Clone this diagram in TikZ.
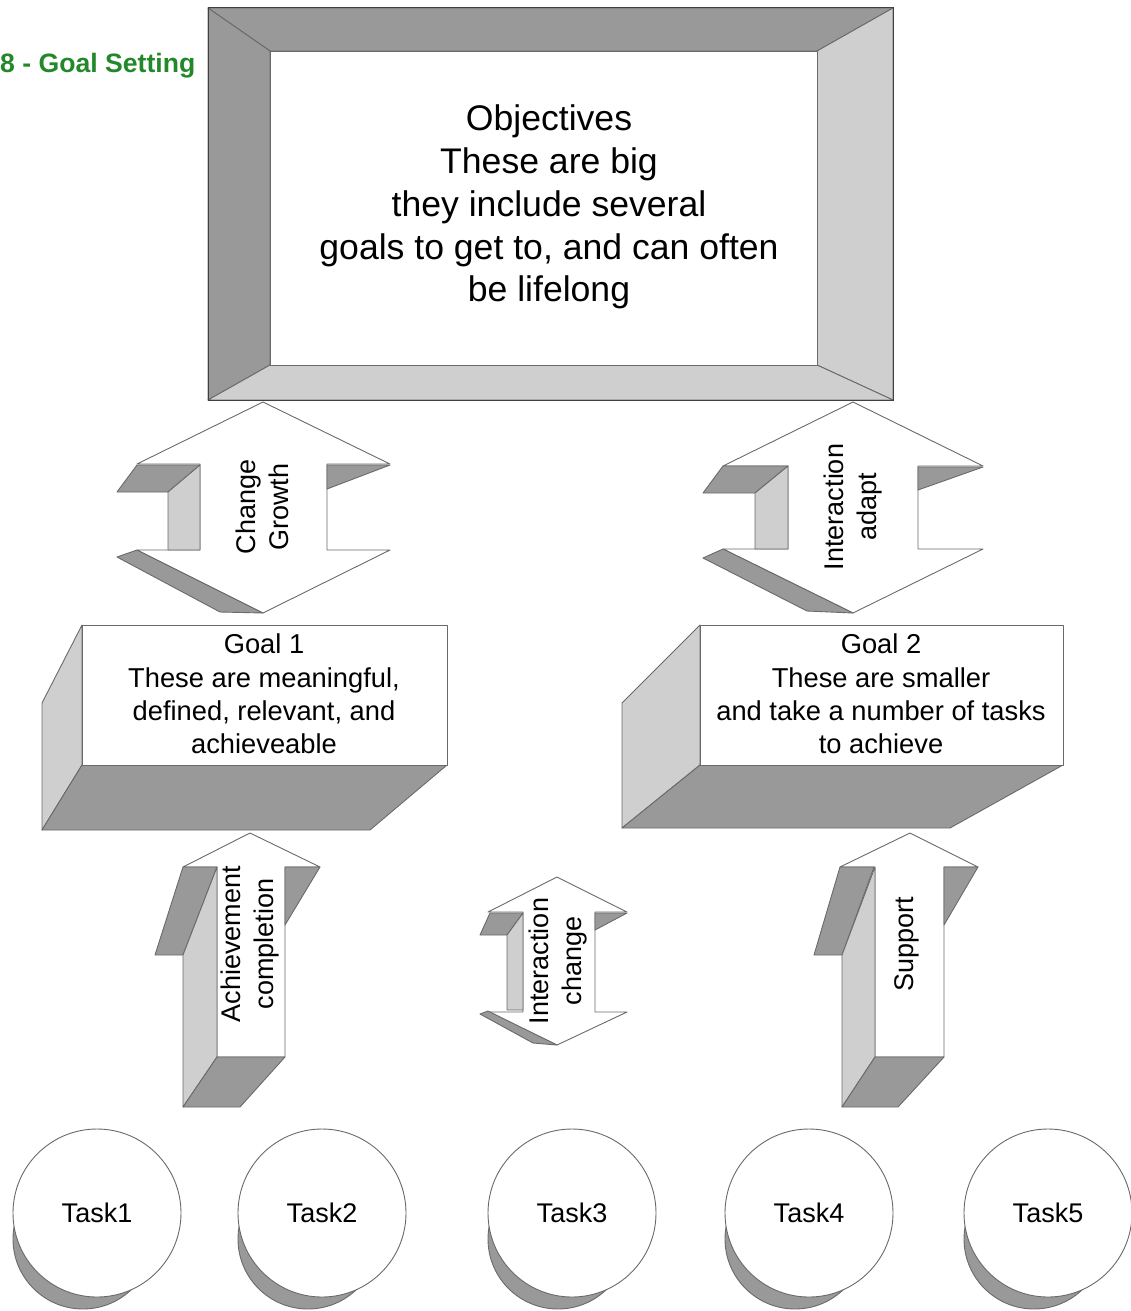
\documentclass[tikz,border=0pt]{standalone}
\usepackage{fontspec}
\setmainfont{Liberation Sans}
\usepackage{tikz}
\usepackage{xcolor}
\usetikzlibrary{positioning, calc}
\definecolor{GoalGreen}{HTML}{23882A}
\definecolor{FaceDark}{HTML}{999999}
\definecolor{FaceLight}{HTML}{CFCFCF}
\definecolor{EdgeGray}{HTML}{6A6A6A}
\definecolor{EdgeDark}{HTML}{404040}
\tikzset{
    % Faces of the 3D shapes
    frontface/.style={
        fill=white,
        draw=EdgeGray,
        line width=0.9pt,
        line join=round
    },
    darkface/.style={
        fill=FaceDark,
        draw=EdgeGray,
        line width=0.9pt,
        line join=round
    },
    lightface/.style={
        fill=FaceLight,
        draw=EdgeGray,
        line width=0.9pt,
        line join=round
    },
    % Text styles
    objtext/.style={
        align=center,
        font=\fontsize{35.6}{42.8}\selectfont
    },
    goaltext/.style={
        align=center,
        font=\fontsize{27.3}{33.2}\selectfont
    },
    arrowtext/.style={
        align=center,
        rotate=90,
        font=\fontsize{27}{33}\selectfont
    },
    taskcircle/.style={
        circle,
        draw=EdgeGray,
        fill=white,
        line width=0.9pt,
        minimum size=168pt,
        inner sep=0pt,
        font=\fontsize{27}{33}\selectfont
    },
    titletext/.style={
        anchor=base west,
        inner sep=0pt,
        text=GoalGreen,
        font=\fontsize{26.6}{32}\selectfont\bfseries
    }
}
\begin{document}
\begin{tikzpicture}[x=1pt, y=-1pt]
    \useasboundingbox (0,0) rectangle (1130,1311);

    % Title
    \node[titletext] (title) at (0,73) {8 - Goal Setting};

    % Objectives frame
    \draw[darkface] (208,8) -- (893,8) -- (817,51) -- (270,51) -- cycle;
    \draw[darkface] (208,8) -- (270,51) -- (270,365) -- (208,400) -- cycle;
    \draw[lightface] (893,8) -- (893,400) -- (817,365) -- (817,51) -- cycle;
    \draw[lightface] (208,400) -- (270,365) -- (817,365) -- (893,400) -- cycle;
    \draw[frontface] (270,51) rectangle (817,365);
    \draw[EdgeDark, line width=1pt] (208,8) rectangle (893,400);
    \node[objtext] (objectives) at (549,207) {Objectives\\These are big\\they include several\\goals to get to, and can often\\be lifelong};

    % Change / Growth arrow
    \draw[frontface] (263,402) -- (390,464) -- (327,464) -- (327,550) -- (390,550) -- (263,613) -- (137,550) -- (200,550) -- (200,464) -- (137,464) -- cycle;
    \draw[darkface] (117,492) -- (137,465) -- (200,465) -- (168,492) -- cycle;
    \draw[lightface] (168,492) -- (200,465) -- (200,550) -- (168,550) -- cycle;
    \draw[darkface] (327,465) -- (390,465) -- (327,489) -- cycle;
    \draw[darkface] (117,557) -- (137,550) -- (263,613) -- (220,612) -- cycle;
    \node[arrowtext] (growth) at (262,507) {Change\\Growth};

    % Interaction / adapt arrow
    \draw[frontface] (853,402) -- (983,466) -- (918,466) -- (918,549) -- (983,549) -- (853,613) -- (723,549) -- (788,549) -- (788,466) -- (723,466) -- cycle;
    \draw[darkface] (703,493) -- (723,466) -- (788,466) -- (755,493) -- cycle;
    \draw[lightface] (755,493) -- (788,466) -- (788,549) -- (755,549) -- cycle;
    \draw[darkface] (918,467) -- (983,467) -- (918,490) -- cycle;
    \draw[darkface] (703,558) -- (723,549) -- (853,613) -- (807,611) -- cycle;
    \node[arrowtext] (adapt) at (853,507) {Interaction\\adapt};

    % Goal 1 box
    \draw[lightface] (82,625) -- (42,703) -- (42,830) -- (82,765) -- cycle;
    \draw[darkface] (82,765) -- (447,765) -- (370,830) -- (42,830) -- cycle;
    \draw[frontface] (82,625) rectangle (447,765);
    \node[goaltext] (goal1) at (264,694) {Goal 1\\These are meaningful,\\defined, relevant, and\\achieveable};

    % Goal 2 box
    \draw[lightface] (700,625) -- (622,703) -- (622,828) -- (700,765) -- cycle;
    \draw[darkface] (700,765) -- (1063,765) -- (950,828) -- (622,828) -- cycle;
    \draw[frontface] (700,625) rectangle (1063,765);
    \node[goaltext] (goal2) at (881,694) {Goal 2\\These are smaller\\and take a number of tasks\\to achieve};

    % Achievement arrow
    \draw[frontface] (250,833) -- (320,867) -- (285,867) -- (285,1057) -- (217,1057) -- (217,867) -- (183,867) -- cycle;
    \draw[darkface] (183,867) -- (217,867) -- (183,955) -- (155,955) -- cycle;
    \draw[lightface] (217,867) -- (217,1057) -- (183,1107) -- (183,955) -- cycle;
    \draw[darkface] (285,867) -- (320,867) -- (285,925) -- cycle;
    \draw[darkface] (217,1057) -- (285,1057) -- (240,1107) -- (183,1107) -- cycle;
    \node[arrowtext] (completion) at (250,944) {Achievement\\completion};

    % Interaction / change arrow
    \draw[frontface] (557,877) -- (627,912) -- (595,912) -- (595,1012) -- (627,1012) -- (557,1045) -- (488,1012) -- (523,1012) -- (523,912) -- (488,912) -- cycle;
    \draw[darkface] (480,935) -- (490,913) -- (523,913) -- (507,935) -- cycle;
    \draw[lightface] (507,935) -- (523,913) -- (523,1010) -- (507,1010) -- cycle;
    \draw[darkface] (595,913) -- (627,913) -- (595,930) -- cycle;
    \draw[darkface] (480,1014) -- (488,1011) -- (557,1045) -- (533,1043) -- cycle;
    \node[arrowtext] (change) at (558,961) {Interaction\\change};

    % Support arrow
    \draw[frontface] (910,833) -- (978,867) -- (944,867) -- (944,1057) -- (875,1057) -- (875,867) -- (840,867) -- cycle;
    \draw[darkface] (840,867) -- (874,867) -- (842,955) -- (814,955) -- cycle;
    \draw[lightface] (875,867) -- (875,1057) -- (842,1107) -- (842,955) -- cycle;
    \draw[darkface] (944,867) -- (978,867) -- (944,925) -- cycle;
    \draw[darkface] (875,1057) -- (944,1057) -- (898,1107) -- (842,1107) -- cycle;
    \node[arrowtext] (support) at (907,944) {Support};

    % Tasks
    \foreach \x/\n in {97/1, 322/2, 572/3, 809/4, 1048/5} {
        \draw[darkface] (\x-14,1239) circle (70pt);
        \node[taskcircle] (task\n) at (\x,1213) {Task\n};
    }
\end{tikzpicture}
\end{document}
